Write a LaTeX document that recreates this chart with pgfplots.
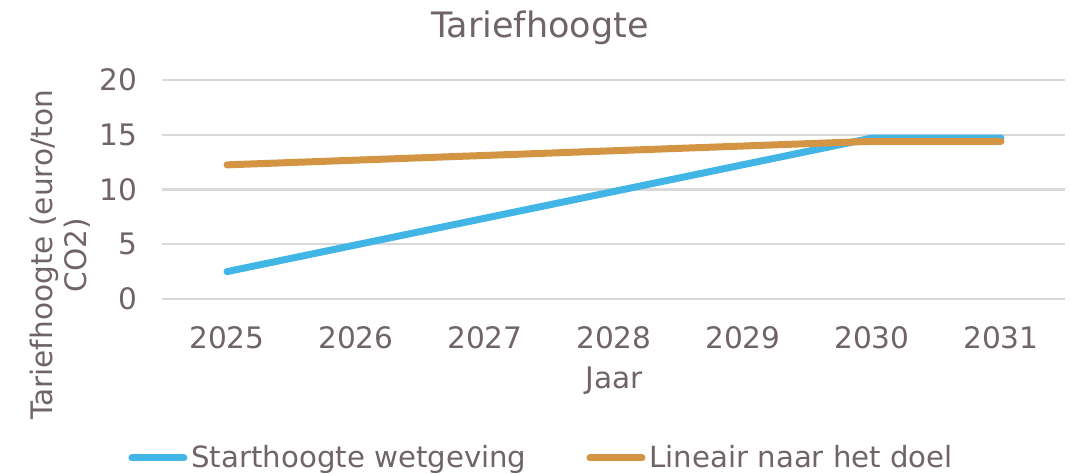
\documentclass[border=0pt]{standalone}
\usepackage{fontspec}
\setmainfont{DejaVu Sans}
\usepackage{pgfplots}
\pgfplotsset{compat=1.18}
\definecolor{txtgray}{RGB}{112,100,102}
\definecolor{gridgray}{RGB}{217,217,217}
\definecolor{lineblue}{RGB}{65,182,230}
\definecolor{lineorange}{RGB}{211,149,68}

\begin{document}
\begin{tikzpicture}
  % frame of the whole chart, 1 px = 0.5pt
  \useasboundingbox (-81.25pt,-87.5pt) rectangle (454.25pt,149.5pt);
  \begin{axis}[
    scale only axis,
    width=451.5pt, height=109.5pt,
    xmin=2024.5, xmax=2031.5,
    ymin=0, ymax=20,
    xtick={2025,2026,...,2031},
    ytick={0,5,10,15,20},
    /pgf/number format/set thousands separator={},
    /pgf/number format/assume math mode=true,
    axis line style={draw=none},
    major tick length=0pt,
    ymajorgrids,
    grid style={gridgray, line width=1.2pt},
    clip=false,
    font=\fontsize{14.8}{17}\selectfont,
    every tick label/.append style={txtgray},
    xticklabel style={anchor=center, yshift=-19.5pt},
    yticklabel style={anchor=east, inner sep=0pt, xshift=-12.5pt},
    title={Tariefhoogte},
    title style={at={(axis description cs:0.418,1.251)}, anchor=center, yshift=-7.5pt, txtgray, font=\fontsize{17.5}{20}\selectfont},
    xlabel={Jaar},
    xlabel style={at={(axis description cs:0.5,-0.374)}, anchor=center, txtgray},
    ylabel={Tariefhoogte (euro/ton\\CO2)},
    ylabel style={at={(axis description cs:-0.1130,0.2009)}, anchor=center, align=center, txtgray},
    legend columns=2,
    legend style={at={(axis description cs:0.421,-0.726)}, anchor=center, draw=none, fill=none,
      text=txtgray, font=\fontsize{14.6}{17}\selectfont,
      /tikz/every even column/.append style={column sep=28pt}},
    legend image code/.code={\draw[#1, line cap=round] (0pt,0pt) -- (26pt,0pt);},
  ]
  \addplot[lineblue, line width=3.5pt, line cap=round, line join=round] coordinates {
    (2025,2.5)(2026,4.94)(2027,7.38)(2028,9.82)(2029,12.26)(2030,14.7)(2031,14.7)
  };
  \addlegendentry{Starthoogte wetgeving}
  \addplot[lineorange, line width=3.5pt, line cap=round, line join=round] coordinates {
    (2025,12.25)(2026,12.68)(2027,13.11)(2028,13.54)(2029,13.97)(2030,14.4)(2031,14.4)
  };
  \addlegendentry{Lineair naar het doel}
  \end{axis}
\end{tikzpicture}
\end{document}
